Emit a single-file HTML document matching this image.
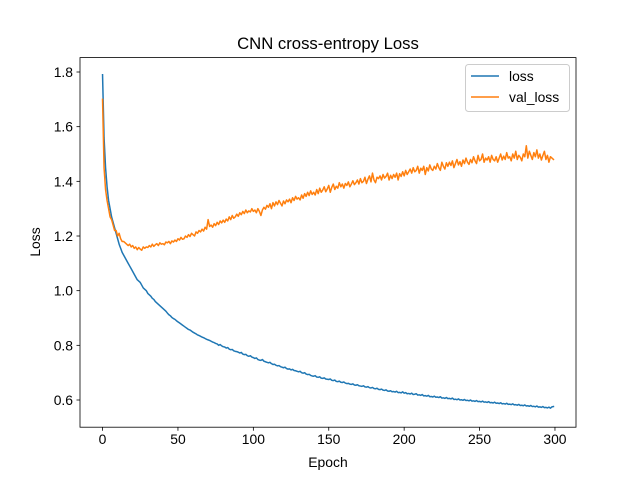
<!DOCTYPE html>
<html><head><meta charset="utf-8"><style>
body{margin:0;background:#fff;position:relative}
svg{display:block;font-family:"Liberation Sans","DejaVu Sans",sans-serif}
</style></head><body>
<svg id="chart" width="640" height="480" xmlns="http://www.w3.org/2000/svg">
<rect width="640" height="480" fill="#fff"/>
<g id="plot"></g>
</svg>
<script>
const lossVals=[1.79,1.56,1.45,1.38,1.33,1.30,1.27,1.25,1.23,1.21,
1.19,1.17,1.155,1.14,1.13,1.12,1.11,1.10,1.09,1.08,
1.07,1.06,1.05,1.04,1.035,1.03,1.02,1.01,1.005,1.00,
0.99,0.985,0.98,0.972,0.968,0.96,0.955,0.95,0.945,0.94,
0.935,0.93,0.925,0.918,0.912,0.908,0.902,0.898,0.895,0.89,
0.886,0.882,0.878,0.874,0.87,0.866,0.862,0.858,0.856,0.852,
0.848,0.845,0.842,0.838,0.836,0.833,0.83,0.828,0.825,0.822,
0.82,0.818,0.815,0.812,0.81,0.807,0.805,0.8,0.803,0.798,
0.795,0.794,0.79,0.792,0.786,0.784,0.785,0.78,0.778,0.777,
0.775,0.772,0.774,0.768,0.766,0.767,0.762,0.76,0.762,0.757,
0.755,0.752,0.754,0.748,0.746,0.745,0.748,0.742,0.74,0.738,
0.736,0.738,0.733,0.73,0.731,0.727,0.725,0.726,0.722,0.72,
0.718,0.72,0.715,0.713,0.714,0.71,0.712,0.708,0.707,0.705,
0.703,0.705,0.70,0.698,0.70,0.695,0.693,0.694,0.69,0.688,
0.687,0.689,0.684,0.683,0.685,0.68,0.679,0.681,0.677,0.676,
0.675,0.677,0.672,0.671,0.673,0.668,0.667,0.669,0.665,0.664,
0.666,0.662,0.66,0.661,0.658,0.657,0.659,0.655,0.654,0.656,
0.652,0.651,0.65,0.652,0.648,0.647,0.649,0.645,0.644,0.646,
0.642,0.641,0.643,0.639,0.638,0.64,0.636,0.635,0.637,0.633,
0.632,0.634,0.63,0.631,0.629,0.632,0.627,0.628,0.626,0.63,
0.625,0.627,0.623,0.624,0.622,0.625,0.62,0.621,0.623,0.618,
0.619,0.617,0.62,0.615,0.616,0.614,0.617,0.612,0.613,0.611,
0.614,0.61,0.611,0.609,0.612,0.607,0.608,0.606,0.609,0.605,
0.606,0.604,0.607,0.602,0.603,0.601,0.604,0.60,0.601,0.599,
0.602,0.598,0.599,0.597,0.60,0.596,0.597,0.595,0.598,0.594,
0.595,0.593,0.596,0.592,0.593,0.591,0.594,0.59,0.591,0.589,
0.592,0.588,0.589,0.587,0.59,0.586,0.587,0.585,0.588,0.584,
0.585,0.583,0.586,0.582,0.583,0.581,0.584,0.58,0.581,0.579,
0.582,0.578,0.579,0.577,0.58,0.576,0.577,0.575,0.578,0.574,
0.575,0.573,0.576,0.572,0.573,0.571,0.574,0.57,0.575,0.576];
const valLossVals=[1.70,1.45,1.37,1.33,1.30,1.27,1.26,1.24,1.22,1.22,
1.20,1.21,1.19,1.18,1.18,1.175,1.17,1.165,1.17,1.16,
1.165,1.155,1.16,1.15,1.158,1.152,1.148,1.16,1.155,1.16,
1.158,1.165,1.16,1.17,1.162,1.168,1.172,1.165,1.175,1.17,
1.172,1.168,1.178,1.175,1.18,1.172,1.182,1.178,1.185,1.18,
1.19,1.185,1.195,1.188,1.19,1.2,1.195,1.205,1.198,1.21,
1.205,1.2,1.215,1.21,1.22,1.215,1.225,1.218,1.232,1.225,
1.26,1.235,1.24,1.232,1.245,1.238,1.25,1.242,1.255,1.248,
1.258,1.25,1.262,1.255,1.27,1.26,1.275,1.265,1.27,1.28,
1.272,1.285,1.278,1.29,1.282,1.295,1.285,1.292,1.288,1.3,
1.29,1.295,1.285,1.3,1.29,1.275,1.295,1.305,1.298,1.312,
1.305,1.318,1.3,1.322,1.31,1.325,1.315,1.33,1.32,1.31,
1.328,1.318,1.332,1.325,1.335,1.322,1.34,1.33,1.345,1.335,
1.34,1.332,1.35,1.338,1.355,1.345,1.36,1.348,1.365,1.352,
1.36,1.35,1.37,1.355,1.375,1.36,1.368,1.38,1.362,1.372,
1.385,1.36,1.378,1.39,1.37,1.382,1.375,1.395,1.38,1.39,
1.375,1.392,1.385,1.398,1.38,1.39,1.402,1.388,1.395,1.405,
1.39,1.41,1.395,1.4,1.415,1.392,1.408,1.42,1.398,1.43,
1.405,1.395,1.415,1.41,1.42,1.405,1.425,1.412,1.418,1.43,
1.405,1.422,1.41,1.425,1.415,1.43,1.405,1.428,1.418,1.435,
1.42,1.44,1.425,1.435,1.445,1.43,1.45,1.435,1.44,1.455,
1.43,1.448,1.44,1.455,1.425,1.45,1.438,1.46,1.445,1.44,
1.455,1.445,1.465,1.45,1.44,1.47,1.455,1.445,1.468,1.455,
1.47,1.458,1.475,1.45,1.465,1.48,1.46,1.472,1.455,1.478,
1.465,1.485,1.47,1.462,1.48,1.468,1.49,1.475,1.465,1.495,
1.475,1.48,1.5,1.47,1.485,1.478,1.49,1.47,1.495,1.48,
1.475,1.49,1.47,1.485,1.5,1.478,1.492,1.48,1.505,1.485,
1.49,1.475,1.5,1.485,1.51,1.48,1.495,1.488,1.475,1.5,
1.49,1.53,1.485,1.51,1.495,1.48,1.505,1.49,1.515,1.485,
1.5,1.478,1.495,1.51,1.48,1.495,1.47,1.49,1.485,1.48];
const xTicks=[0,50,100,150,200,250,300];
const yTicks=[0.6,0.8,1.0,1.2,1.4,1.6,1.8];
const yTickLabels=["0.6","0.8","1.0","1.2","1.4","1.6","1.8"];

const NS="http://www.w3.org/2000/svg";
const L=80,R=576,T=57.6,B=427.2;
const xMin=-14.95,xMax=313.95;
const yMin=0.5005,yMax=1.8527;
function sx(v){return L+(v-xMin)/(xMax-xMin)*(R-L);}
function sy(v){return B-(v-yMin)/(yMax-yMin)*(B-T);}
const g=document.getElementById('plot');
function mk(tag,attrs,parent){const e=document.createElementNS(NS,tag);for(const k in attrs)e.setAttribute(k,attrs[k]);(parent||g).appendChild(e);return e;}

function line(vals,color,name){
  const d=vals.map((v,i)=>(i?'L':'M')+sx(i).toFixed(2)+','+sy(v).toFixed(2)).join('');
  const p=mk('path',{d:d,fill:'none',stroke:color,'stroke-width':1.5,'stroke-linejoin':'round','stroke-linecap':'square'});
  
  
}
line(lossVals,'#1f77b4','loss-line');
line(valLossVals,'#ff7f0e','val-loss-line');

const frame=mk('rect',{x:L,y:T,width:R-L,height:B-T,fill:'none',stroke:'#000','stroke-width':0.8});



xTicks.forEach(t=>{
  const x=sx(t);
  const tk=mk('line',{x1:x,x2:x,y1:B,y2:B+3.5,stroke:'#000','stroke-width':0.8});
  
  
  const tx=mk('text',{x:x,y:B+17,'text-anchor':'middle','font-size':'13.9px',fill:'#000'});
  tx.textContent=String(t);
  
  
});
yTicks.forEach((t,i)=>{
  const y=sy(t);
  const tk=mk('line',{x1:L-3.5,x2:L,y1:y,y2:y,stroke:'#000','stroke-width':0.8});
  
  
  const tx=mk('text',{x:L-7,y:y+5,'text-anchor':'end','font-size':'13.9px',fill:'#000'});
  tx.textContent=yTickLabels[i];
  
  
});
</script>
<svg width="640" height="480" style="position:absolute;left:0;top:0" xmlns="http://www.w3.org/2000/svg">
<text x="328" y="49" text-anchor="middle" font-size="16.7px" font-family="Liberation Sans, DejaVu Sans, sans-serif">CNN cross-entropy Loss</text>
<text x="328" y="467" text-anchor="middle" font-size="13.9px" font-family="Liberation Sans, DejaVu Sans, sans-serif">Epoch</text>
<text x="0" y="0" transform="translate(40,242) rotate(-90)" text-anchor="middle" font-size="13.9px" font-family="Liberation Sans, DejaVu Sans, sans-serif">Loss</text>
<g>
<rect x="465.5" y="64.5" width="104" height="47" rx="3" fill="#fff" fill-opacity="0.8" stroke="#ccc"/>
<line x1="471" x2="499" y1="76" y2="76" stroke="#1f77b4" stroke-width="1.5"/>
<text x="509" y="81" font-size="13.9px" font-family="Liberation Sans, DejaVu Sans, sans-serif">loss</text>
<line x1="471" x2="499" y1="97" y2="97" stroke="#ff7f0e" stroke-width="1.5"/>
<text x="509" y="102" font-size="13.9px" font-family="Liberation Sans, DejaVu Sans, sans-serif">val_loss</text>
</g>
</svg>
</body></html>
